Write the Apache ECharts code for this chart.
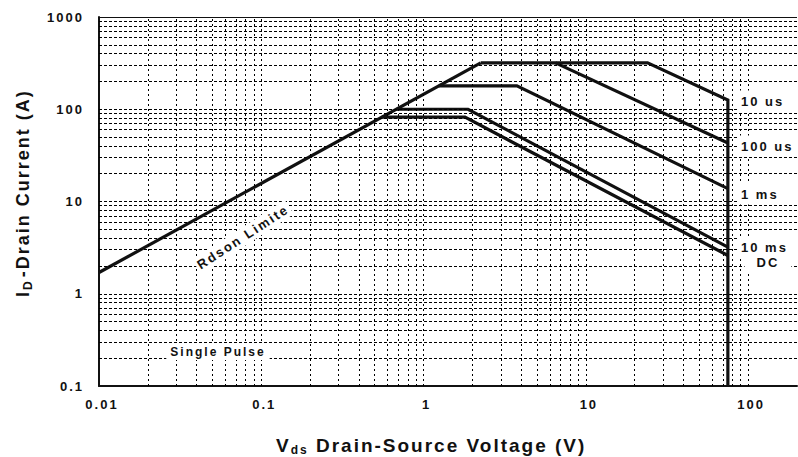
<!DOCTYPE html>
<html>
<head>
<meta charset="utf-8">
<script src="https://cdn.jsdelivr.net/npm/echarts@6/dist/echarts.min.js"></script>
<style>
  html, body { margin: 0; padding: 0; background: #fff; }
  #chart { width: 798px; height: 457px; }
  #chart svg text { letter-spacing: 2px; }
</style>
</head>
<body>
<div id="chart"></div>
<script>
// ---- Axis ticks ----
const xTicks = [0.01, 0.1, 1, 10, 100];
const xTickLabels = ['0.01', '0.1', '1', '10', '100'];
const yTicks = [0.1, 1, 10, 100, 1000];
const yTickLabels = ['0.1', '1', '10', '100', '1000'];

// ---- Grid line values ----
const xGridValues = [0.02, 0.03, 0.04, 0.05, 0.06, 0.07, 0.08, 0.09,
  0.1, 0.2, 0.3, 0.4, 0.5, 0.6, 0.7, 0.8, 0.9,
  1, 2, 3, 4, 5, 6, 7, 8, 9,
  10, 20, 30, 40, 50, 60, 70, 80, 90, 100];
const yGridValues = [0.2, 0.3, 0.4, 0.5, 0.6, 0.7, 0.8, 0.9,
  1, 2, 3, 4, 5, 6, 7, 8, 9,
  10, 20, 30, 40, 50, 60, 70, 80, 90,
  100, 200, 300, 400, 500, 600, 700, 800, 900];

// ---- Curves [Vds (V), Id (A)] ----
const rdsonLimit = [[0.01, 1.7], [2.25, 318]];
const pulse10us = [[2.25, 318], [24, 318], [75, 126], [75, 0.1]];
const pulse100us = [[6.5, 318], [75, 43]];
const pulse1ms = [[1.24, 179], [3.76, 179], [75, 13.8]];
const pulse10ms = [[0.68, 100], [1.88, 100], [75, 3.2]];
const dcCurve = [[0.553, 82], [1.8, 82], [75, 2.6]];

const curveNames = ['Rdson Limite', '10 us', '100 us', '1 ms', '10 ms', 'DC'];
const curves = [rdsonLimit, pulse10us, pulse100us, pulse1ms, pulse10ms, dcCurve];

const FONT = '"Liberation Sans", Arial, Helvetica, sans-serif';

function nearestLabel(v, ticks, labels) {
  let best = 0, bd = Infinity;
  ticks.forEach((t, i) => {
    const d = Math.abs(Math.log10(v) - Math.log10(t));
    if (d < bd) { bd = d; best = i; }
  });
  return bd < 0.01 ? labels[best] : '';
}

const chart = echarts.init(document.getElementById('chart'), null, { renderer: 'svg' });

const series = [
  {
    type: 'line',
    data: [],
    silent: true,
    z: 1,
    markLine: {
      silent: true,
      symbol: ['none', 'none'],
      animation: false,
      label: { show: false },
      emphasis: { disabled: true },
      data: [
        ...xGridValues.map(v => ({ xAxis: v, lineStyle: { color: '#000', width: 1, type: [2, 3] } })),
        ...yGridValues.map(v => ({ yAxis: v, lineStyle: { color: '#000', width: 1, type: [3, 2] } })),
        { yAxis: 1000, lineStyle: { color: '#111', width: 1.2, type: 'solid' } }
      ]
    }
  },
  ...curves.map((d, i) => ({
    name: curveNames[i],
    type: 'line',
    data: d,
    symbol: 'none',
    silent: true,
    z: 3,
    animation: false,
    lineStyle: { color: '#111', width: 3.2, join: 'miter' }
  }))
];

function label(text, x, y, align, padding, size) {
  return {
    type: 'text', x: x, y: y, silent: true, z: 10,
    style: {
      text: text, font: 'bold ' + (size || 13) + 'px ' + FONT, fill: '#111',
      textAlign: align, verticalAlign: 'middle', textVerticalAlign: 'middle',
      backgroundColor: '#fff', padding: padding
    }
  };
}

const mainRich = (size, lh, pad) => ({ fontFamily: FONT, fontWeight: 'bold', fontSize: size, lineHeight: lh, fill: '#111', color: '#111', align: 'left', padding: pad || 0 });
const subRich = (size, lh) => ({ fontFamily: FONT, fontWeight: 'bold', fontSize: size, lineHeight: lh, verticalAlign: 'bottom', fill: '#111', color: '#111', align: 'left', padding: [0, 4, 0, 0] });

chart.setOption({
  animation: false,
  backgroundColor: '#fff',
  grid: { left: 99, right: 1, top: 17, bottom: 71, containLabel: false },
  xAxis: {
    type: 'log',
    logBase: 10,
    min: 0.01,
    max: 200,
    splitLine: { show: false },
    axisTick: { show: false },
    axisLine: { show: true, onZero: false, lineStyle: { color: '#111', width: 2 } },
    axisLabel: {
      customValues: xTicks,
      formatter: v => nearestLabel(v, xTicks, xTickLabels),
      margin: 12,
      padding: [0, 0, 0, 6],
      fontSize: 13,
      fontFamily: FONT,
      fontWeight: 'bold',
      color: '#111'
    }
  },
  yAxis: {
    type: 'log',
    logBase: 10,
    min: 0.1,
    max: 1000,
    splitLine: { show: false },
    axisTick: { show: false },
    axisLine: { show: true, onZero: false, lineStyle: { color: '#111', width: 2 } },
    axisLabel: {
      customValues: yTicks,
      formatter: v => nearestLabel(v, yTicks, yTickLabels),
      margin: 15,
      fontSize: 13,
      fontFamily: FONT,
      fontWeight: 'bold',
      color: '#111'
    }
  },
  series: series,
  graphic: [
    {
      type: 'text', x: 23, y: 297, rotation: Math.PI / 2, silent: true,
      style: {
        text: '{a|I}{s|D}{m|-Drain Current (A)}',
        textAlign: 'left', verticalAlign: 'middle', textVerticalAlign: 'middle',
        rich: { a: mainRich(18, 21, [0, 2, 0, 0]), m: mainRich(18, 21), s: subRich(12, 17) }
      }
    },
    {
      type: 'text', x: 276, y: 445, silent: true,
      style: {
        text: '{a|V}{s|ds}{m| Drain-Source Voltage (V)}',
        textAlign: 'left', verticalAlign: 'middle', textVerticalAlign: 'middle',
        rich: { a: mainRich(19, 22, [0, 2, 0, 0]), m: mainRich(19, 22), s: subRich(12, 17) }
      }
    },
    {
      type: 'text', x: 243, y: 237, rotation: 33 * Math.PI / 180, silent: true, z: 10,
      style: {
        text: 'Rdson Limite', font: 'bold 13px ' + FONT, fill: '#111',
        textAlign: 'center', verticalAlign: 'middle', textVerticalAlign: 'middle',
        backgroundColor: '#fff', padding: [2, 14, 2, 14]
      }
    },
    label('Single Pulse', 218, 352, 'center', [2, 16, 2, 16], 12),
    label('10 us', 737, 101, 'left', [4, 40, 4, 4]),
    label('100 us', 737, 146, 'left', [4, 40, 4, 4]),
    label('1 ms', 737, 194, 'left', [4, 40, 4, 4]),
    label('10 ms', 737, 247, 'left', [4, 40, 1, 4]),
    label('DC', 768, 262, 'center', [1, 14, 4, 14])
  ]
});
</script>
</body>
</html>
